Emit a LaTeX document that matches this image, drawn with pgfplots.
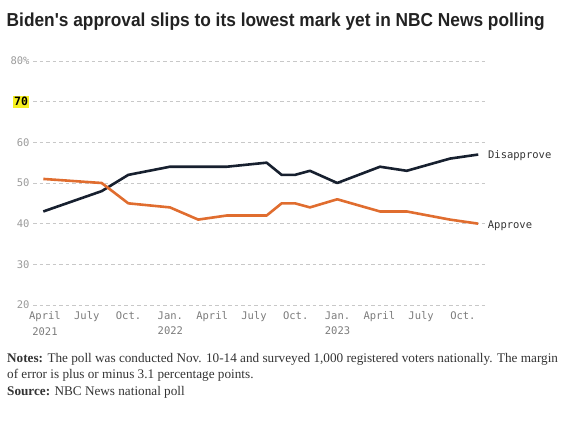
\documentclass[border=0pt]{standalone}
\usepackage{pgfplots}
\pgfplotsset{compat=1.18}
\usepackage{fontspec}
\setmainfont{Liberation Sans}
\newfontfamily\titlefont[Ligatures=TeXOff]{Liberation Sans}
\newfontfamily\monofont{DejaVu Sans Mono}
\newfontfamily\serifnote{Liberation Serif}
\definecolor{navy}{HTML}{17202F}
\definecolor{orng}{HTML}{E06D2F}
\definecolor{gridc}{HTML}{C8C8C8}
\definecolor{tickc}{HTML}{9A9A9A}
\definecolor{hl}{HTML}{F6F01E}
\definecolor{titlec}{HTML}{222222}
\definecolor{notec}{HTML}{333333}
\begin{document}
\begin{tikzpicture}[x=1pt,y=1pt]
\path (0,0) rectangle (566,424);
\node[anchor=base west, inner sep=0pt, text=titlec] at (6.5,397.3)
  {\resizebox{538pt}{13.6pt}{\titlefont\bfseries Biden's approval slips to its lowest mark yet in NBC News polling}};
\begin{axis}[
  at={(33pt,119pt)}, anchor=south west,
  scale only axis, width=454pt, height=244pt,
  xmin=2.14, xmax=34.73, ymin=20, ymax=80,
  axis line style={draw=none},
  clip=false,
  ymajorgrids,
  grid style={gridc, line width=0.7pt, dash pattern=on 3.5pt off 3pt},
  ytick={20,30,40,50,60,70,80},
  yticklabels={20,30,40,50,60,{{\setlength\fboxsep{1.5pt}\colorbox{hl}{\textcolor{black}{\fontsize{11.5}{12}\selectfont\bfseries 70}}}},80\%},
  xtick={3,6,9,12,15,18,21,24,27,30,33},
  xticklabels={April\\2021,July,Oct.,Jan.\\2022,April,July,Oct.,Jan.\\2023,April,July,Oct.},
  major tick length=0pt,
  yticklabel style={font=\monofont\fontsize{10.5}{12}\selectfont, text=tickc, anchor=east, xshift=0pt},
  xticklabel style={font=\monofont\fontsize{10.5}{15.5}\selectfont, text=tickc!80!black, align=center, anchor=north, yshift=-3pt},
]
\addplot[navy, line width=2.6pt, line join=round] coordinates {
 (2.88,43) (7.07,48) (8.98,52) (11.97,54) (14.0,54) (16.04,54) (18.91,55) (19.99,52) (20.95,52) (22.02,53) (23.98,50) (27.05,54) (28.97,53) (32.07,56) (34.1,57)
} node[pos=1, anchor=west, xshift=5pt, yshift=-1pt, text=notec, font=\monofont\fontsize{10.5}{12}\selectfont] {Disapprove};
\addplot[orng, line width=2.6pt, line join=round] coordinates {
 (2.88,51) (7.07,50) (8.98,45) (11.97,44) (14.0,41) (16.04,42) (18.91,42) (19.99,45) (20.95,45) (22.02,44) (23.98,46) (27.05,43) (28.97,43) (32.07,41) (34.1,40)
} node[pos=1, anchor=west, xshift=5pt, yshift=-2.5pt, text=notec, font=\monofont\fontsize{10.5}{12}\selectfont] {Approve};
\end{axis}
\node[anchor=base west, inner sep=0pt, text=notec, font=\serifnote\fontsize{13.2}{14}\selectfont] at (7,62)
  {\textbf{Notes:} The poll was conducted Nov. 10-14 and surveyed 1,000 registered voters nationally. The margin};
\node[anchor=base west, inner sep=0pt, text=notec, font=\serifnote\fontsize{13.2}{14}\selectfont] at (7,46)
  {of error is plus or minus 3.1 percentage points.};
\node[anchor=base west, inner sep=0pt, text=notec, font=\serifnote\fontsize{13.2}{14}\selectfont] at (7,29)
  {\textbf{Source:} NBC News national poll};
\end{tikzpicture}
\end{document}
